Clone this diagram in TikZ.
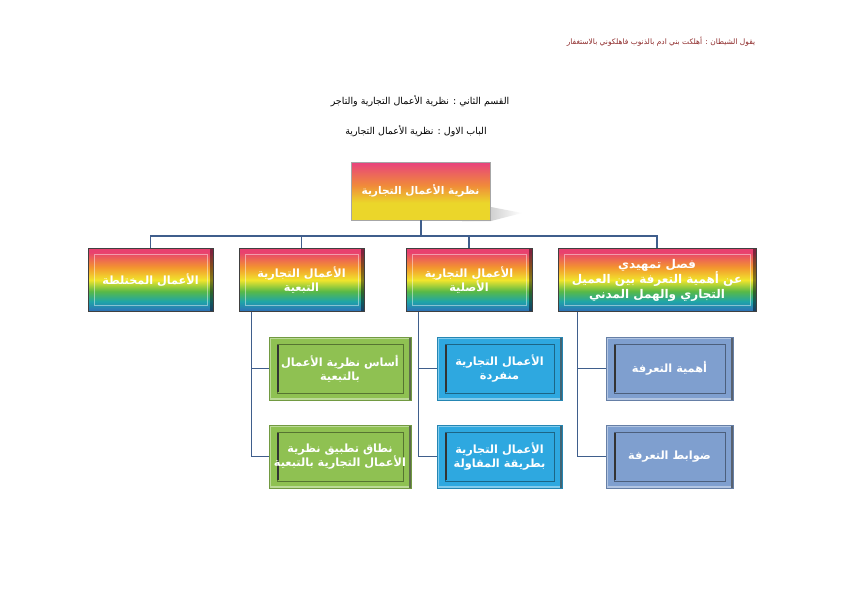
\documentclass[tikz,border=0pt]{standalone}
\usepackage{fontspec}
\newfontfamily\arabicfont[Script=Arabic]{DejaVu Sans}
\TeXXeTstate=1
\newcommand\arl[1]{\beginR #1\endR}
\definecolor{rbBlue}{HTML}{2E6DB8}
\definecolor{rbTeal}{HTML}{1FA5A8}
\definecolor{rbGreen}{HTML}{58B947}
\definecolor{rbYellow}{HTML}{F1E52C}
\definecolor{rbOrange}{HTML}{F3962E}
\definecolor{rbPink}{HTML}{E8416F}
\definecolor{rtYellow}{HTML}{EBD62A}
\definecolor{rtOrange}{HTML}{F08A3A}
\definecolor{rtPink}{HTML}{E8417E}
\definecolor{linec}{HTML}{3F5E8C}
\definecolor{grnfill}{HTML}{8FC152}
\definecolor{bluefill}{HTML}{2EA8E0}
\definecolor{steelfill}{HTML}{7F9FCF}
\definecolor{quote}{HTML}{8E2A2A}
\pgfdeclareverticalshading{rainbow}{100bp}{color(0bp)=(rbBlue); color(25bp)=(rbBlue); color(33bp)=(rbTeal); color(41bp)=(rbGreen); color(50bp)=(rbYellow); color(60bp)=(rbOrange); color(72bp)=(rbPink); color(100bp)=(rbPink)}
\pgfdeclareverticalshading{rootgrad}{100bp}{color(0bp)=(rtYellow); color(25bp)=(rtYellow); color(40bp)=(rtYellow); color(55bp)=(rtOrange); color(75bp)=(rtPink); color(100bp)=(rtPink)}
\tikzset{
  boxtext/.style={font=\arabicfont\bfseries\fontsize{11.3}{14}\selectfont, text=white, align=center, inner sep=0pt},
  rootbox/.style={boxtext, minimum width=139pt, minimum height=58pt, shading=rootgrad, draw=gray!70, line width=0.6pt,
    font=\arabicfont\bfseries\fontsize{10.6}{13}\selectfont},
  lvtwo/.style={boxtext, minimum height=63pt, shading=rainbow, draw=black!75, line width=0.8pt,
    path picture={\draw[white,opacity=0.45,line width=0.5pt]
      ([shift={(6pt,6pt)}]path picture bounding box.south west) rectangle
      ([shift={(-6pt,-6pt)}]path picture bounding box.north east);
      \fill[black,opacity=0.45] ([shift={(-3pt,0pt)}]path picture bounding box.south east) rectangle (path picture bounding box.north east);}},
  lvthree/.style={boxtext, minimum height=63pt, fill=#1, draw=#1!80!black, line width=0.8pt,
    path picture={\draw[#1!60!white,line width=2pt]
      ([shift={(1pt,1pt)}]path picture bounding box.south west) rectangle
      ([shift={(-1pt,-1pt)}]path picture bounding box.north east);
      \draw[#1!60!black,line width=0.6pt]
      ([shift={(8pt,7pt)}]path picture bounding box.south west) rectangle
      ([shift={(-8pt,-7pt)}]path picture bounding box.north east);
      \draw[black!80,line width=1.8pt]
      ([shift={(9pt,8pt)}]path picture bounding box.south west) -- ([shift={(9pt,-8pt)}]path picture bounding box.north west);
      \fill[black,opacity=0.5] ([shift={(-2pt,0pt)}]path picture bounding box.south east) rectangle (path picture bounding box.north east);}},
  conn/.style={draw=linec, line width=1.3pt}
}
\begin{document}
\begin{tikzpicture}[x=1pt,y=-1pt]
\useasboundingbox (0,0) rectangle (842,595);
\fill[white] (0,0) rectangle (842,595);
% header texts
\node[font=\arabicfont\fontsize{7.5}{9}\selectfont, text=quote] (quote) at (661,42) {\arl{يقول الشيطان : أهلكت بني ادم بالذنوب فاهلكوني بالاستغفار}};
\node[font=\arabicfont\fontsize{9.5}{11}\selectfont] (t1) at (420,101) {\arl{القسم الثاني : نظرية الأعمال التجارية والتاجر}};
\node[font=\arabicfont\fontsize{9.5}{11}\selectfont] (t2) at (416,131) {\arl{الباب الاول : نظرية الأعمال التجارية}};
% root shadow
\shade[left color=gray!70, right color=white] (462,221) -- (491,221) -- (522,213) -- (491,207) -- cycle;
\node[rootbox] (root) at (420.5,191) {\arl{نظرية الأعمال التجارية}};
% level 2
\node[lvtwo, minimum width=125pt] (mix) at (150.5,280) {\arl{الأعمال المختلطة}};
\node[lvtwo, minimum width=125pt] (acc) at (301.5,280) {\arl{الأعمال التجارية}\\\arl{التبعية}};
\node[lvtwo, minimum width=126pt] (orig) at (469,280) {\arl{الأعمال التجارية}\\\arl{الأصلية}};
\node[lvtwo, minimum width=198pt, font=\arabicfont\bfseries\fontsize{12}{15}\selectfont] (intro) at (657,280) {\arl{فصل تمهيدي}\\\arl{عن أهمية التعرفة بين العميل}\\\arl{التجاري والهمل المدني}};
% level 3
\node[lvthree=grnfill, minimum width=142pt] (g1) at (340,368.5) {\arl{أساس نظرية الأعمال}\\\arl{بالتبعية}};
\node[lvthree=grnfill, minimum width=142pt] (g2) at (340,456.5) {\arl{نطاق تطبيق نظرية}\\\arl{الأعمال التجارية بالتبعية}};
\node[lvthree=bluefill, minimum width=125pt] (b1) at (499.5,368.5) {\arl{الأعمال التجارية}\\\arl{منفردة}};
\node[lvthree=bluefill, minimum width=125pt] (b2) at (499.5,456.5) {\arl{الأعمال التجارية}\\\arl{بطريقة المقاولة}};
\node[lvthree=steelfill, minimum width=127pt] (s1) at (669.5,368.5) {\arl{أهمية التعرفة}};
\node[lvthree=steelfill, minimum width=127pt] (s2) at (669.5,456.5) {\arl{ضوابط التعرفة}};
% connectors
\coordinate (bus) at (421,236);
\draw[conn] (root.south -| bus) -- (bus);
\draw[conn] (mix.north) -- (mix.north |- bus) -- (intro.north |- bus) -- (intro.north);
\draw[conn] (acc.north) -- (acc.north |- bus);
\draw[conn] (orig.north) -- (orig.north |- bus);
\coordinate (ta) at ([xshift=13pt]acc.south west);
\coordinate (tb) at ([xshift=13pt]orig.south west);
\coordinate (tc) at ([xshift=20pt]intro.south west);
\draw[conn] (ta) |- (g1.west);
\draw[conn] (ta) |- (g2.west);
\draw[conn] (tb) |- (b1.west);
\draw[conn] (tb) |- (b2.west);
\draw[conn] (tc) |- (s1.west);
\draw[conn] (tc) |- (s2.west);
\end{tikzpicture}
\end{document}
